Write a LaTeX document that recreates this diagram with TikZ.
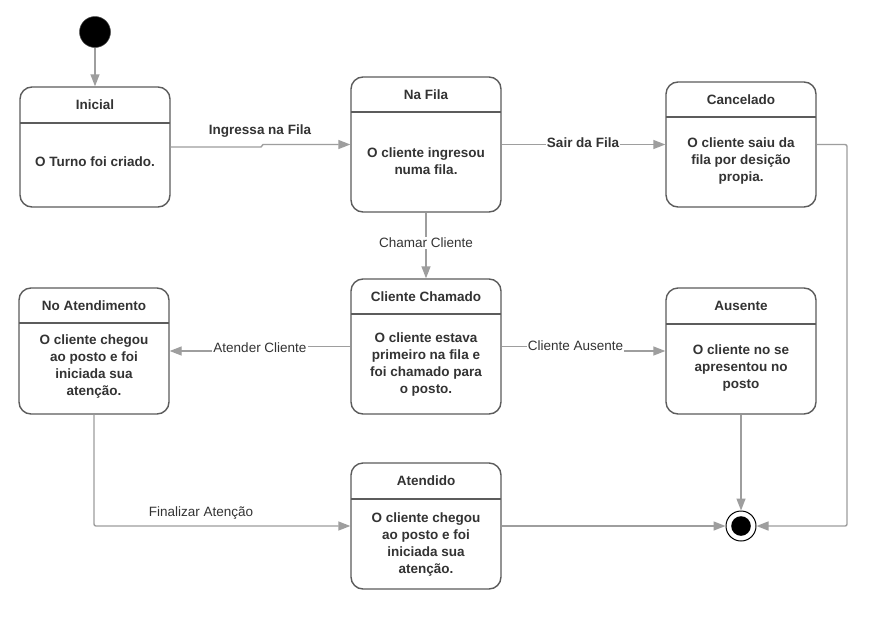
\documentclass[tikz,border=0pt]{standalone}
\usepackage{fontspec}
\setmainfont{Liberation Sans}
\usetikzlibrary{arrows.meta}

\definecolor{edgegray}{HTML}{9E9E9E}
\definecolor{framegray}{HTML}{5C5C5C}
\definecolor{ink}{HTML}{333333}

\tikzset{
  statebox/.style={draw=framegray, line width=1.4pt, rounded corners=12pt, fill=white, inner sep=0pt},
  divider/.style={draw=framegray, line width=1.4pt},
  titletext/.style={text=ink, font=\bfseries\fontsize{13.5}{17}\selectfont, inner sep=0pt},
  bodytext/.style={text=ink, font=\bfseries\fontsize{13.5}{17}\selectfont, align=center, inner sep=0pt},
  flow/.style={draw=edgegray, line width=1.4pt, -{Triangle[length=12pt,width=9pt]}},
  flowlabel/.style={text=ink, font=\fontsize{13.5}{17}\selectfont, fill=white, inner sep=1pt},
  boldlabel/.style={flowlabel, font=\bfseries\fontsize{13.5}{17}\selectfont},
}

% state: name, x1, y1, x2, y2, divider y, title, body, body centre y
\newcommand{\umlstate}[9]{%
  \node[statebox, minimum width={(#4-#2)*1pt}, minimum height={(#5-#3)*1pt}]
    (#1) at ({(#2+#4)/2},{(#3+#5)/2}) {};
  \draw[divider] (#2,#6) -- (#4,#6);
  \node[titletext] (#1-title) at ({(#2+#4)/2},{(#3+#6)/2}) {#7};
  \node[bodytext] (#1-body) at ({(#2+#4)/2},#9) {#8};
}

\begin{document}
\begin{tikzpicture}[x=1pt,y=-1pt]
  \useasboundingbox (0,0) rectangle (877,616);
  \fill[white] (0,0) rectangle (877,616);

  % start and end pseudo-states
  \node[circle, fill=black, draw=black!70, line width=0.5pt, minimum size=31pt, inner sep=0pt] (inicio) at (95,32) {};
  \node[circle, draw=black, line width=1pt, fill=white, minimum size=30pt, inner sep=0pt] (fim) at (741,526) {};
  \fill[black] (fim.center) circle (9.8);

  % states
  \umlstate{ini}{20}{87}{170}{207}{123}{Inicial}{O Turno foi criado.}{162}
  \umlstate{fila}{351}{77}{501}{212}{112}{Na Fila}{O cliente ingresou\\numa fila.}{161}
  \umlstate{cancel}{666}{82}{816}{207}{117}{Cancelado}{O cliente saiu da\\fila por desição\\propia.}{161}
  \umlstate{atend}{19}{288}{169}{414}{323}{No Atendimento}{O cliente chegou\\ao posto e foi\\iniciada sua\\atenção.}{367}
  \umlstate{chamado}{351}{279}{501}{414}{314}{Cliente Chamado}{O cliente estava\\primeiro na fila e\\foi chamado para\\o posto.}{365}
  \umlstate{ausente}{666}{288}{816}{414}{324}{Ausente}{O cliente no se\\apresentou no\\posto}{368}
  \umlstate{atendido}{351}{463}{501}{589}{499}{Atendido}{O cliente chegou\\ao posto e foi\\iniciada sua\\atenção.}{544}

  % transitions
  \draw[flow] (inicio.south) -- (ini.north);

  \draw[flow] (ini.east) -- (261,147) -- (263,144.5) -- (fila.west);
  \node[boldlabel, fill=none] (lb-ingressa) at (260,131) {Ingressa na Fila};

  \draw[flow] (fila.east) -- (cancel.west);
  \node[boldlabel] (lb-sair) at (583,143) {Sair da Fila};

  \draw[flow] (fila.south) -- (chamado.north);
  \node[flowlabel] (lb-chamar) at (426,243) {Chamar Cliente};

  \draw[flow] (chamado.west) -- (262,346.5) -- (262,351) -- (atend.east);
  \node[flowlabel] (lb-atender) at (260,347.5) {Atender Cliente};

  \draw[flow] (chamado.east) -- (575,346.5) -- (575,351) -- (ausente.west);
  \node[flowlabel] (lb-ausente) at (575.5,346) {Cliente Ausente};

  \draw[flow, rounded corners=2pt] (atend.south) |- (atendido.west);
  \node[flowlabel, fill=none] (lb-final) at (201,513) {Finalizar Atenção};

  \draw[flow] (ausente.south) -- (fim.north);
  \draw[flow] (atendido.east) -- (fim.west);
  \draw[flow, rounded corners=2pt] (cancel.east) -- (847,144.5) |- (fim.east);
\end{tikzpicture}
\end{document}
